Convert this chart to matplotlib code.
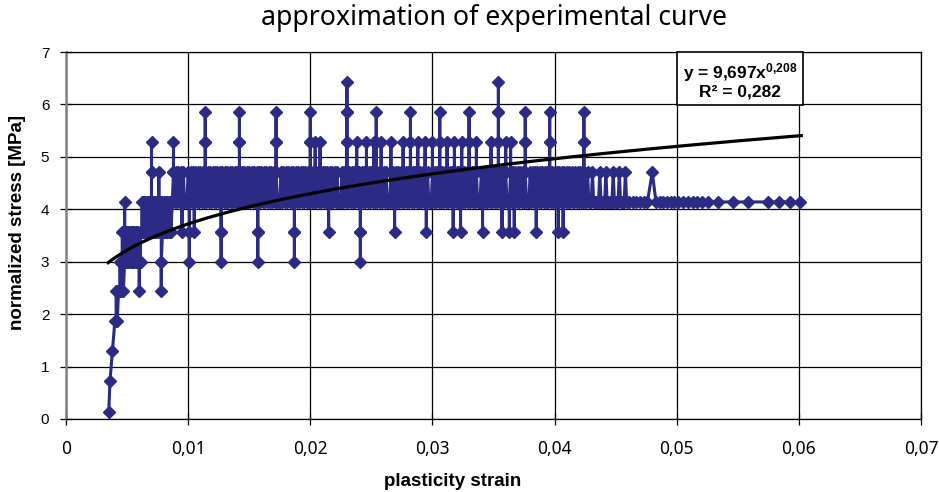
import numpy as np
import matplotlib
matplotlib.use("Agg")
import matplotlib.pyplot as plt
from matplotlib.ticker import FuncFormatter

# --- DATA ---
# discrete stress levels [MPa] seen in the measurement (code 0..b)
STRESS_LEVELS = [0.14, 0.72, 1.30, 1.87, 2.44, 3.00, 3.56, 4.14, 4.71, 5.28, 5.85, 6.43]

# measurement record: "strain*1e4 : level codes visited at that strain (in order)"
RECORD = """
35:0 36:1 38:2 40:3 41:34 42:43 43:4 44:45 45:54 46:56 47:654 48:5676 49:65
50:56 51:65 52:56 53:65 54:56 55:65 56:56 57:65 58:56 59:65 60:545 61:56 62:67
63:76 64:67 65:76 66:67 67:76 68:67 69:76 70:78987 71:76 72:67 73:76 74:67
75:76 76:787 77:67 78:76545 79:67 80:76 81:67 82:76 83:67 84:76 85:67 86:76 87:7
88:898 89:7 90:8 91:7 92:8 93:7 94:8 95:767 96:8 97:7 98:7 99:7
100:8 101:76567 102:8 103:7 104:8 105:767 106:8 107:7 108:8 109:7
110:8 111:7 112:8 113:7 114:89a98 115:7 116:8 117:7 118:8 119:7
120:8 121:7 122:8 123:7 124:8 125:7 126:8 127:76567 128:8 129:7
130:8 131:7 132:8 133:7 134:8 135:7 136:8 137:7 138:8 139:7
140:8 141:7 142:89a98 143:7 144:8 145:7 146:8 147:7 148:8 149:7
150:8 151:7 152:8 153:7 154:8 155:7 156:8 157:76567 158:8 159:7
160:8 161:7 162:8 163:7 164:8 165:7 166:8 167:7 168:8 169:7
170:8 171:7 172:89a98 173:7 174:7 175:7 176:8 177:7 178:8 179:7
180:8 181:7 182:8 183:7 184:8 185:7 186:8 187:76567 188:8 189:7
190:8 191:7 192:8 193:7 194:8 195:7 196:8 197:7 198:8 199:7
200:89a98 201:7 202:8 203:7 204:898 205:7 206:8 207:7 208:898 209:7
210:8 211:7 212:8 213:7 214:8 215:767 216:8 217:7 218:8 219:7
220:8 221:7 222:8 223:7 224:7 225:7 226:8 227:7 228:8 229:7
230:89aba98 231:7 232:8 233:7 234:8 235:7 236:8 237:7 238:898 239:7
240:8 241:76567 242:8 243:7 244:8 245:7 246:898 247:7 248:8 249:7
250:8 251:7 252:898 253:7 254:89a98 255:7 256:8 257:7 258:898 259:7
260:8 261:7 262:8 263:7 264:7 265:7 266:898 267:7 268:8 269:767
270:8 271:7 272:8 273:7 274:8 275:7 276:898 277:7 278:8 279:7
280:8 281:7 282:89a98 283:7 284:8 285:7 286:8 287:7 288:898 289:7
290:8 291:7 292:8 293:7 294:898 295:767 296:8 297:7 298:7 299:7
300:898 301:7 302:8 303:7 304:8 305:7 306:89a98 307:7 308:8 309:7
310:8 311:7 312:898 313:7 314:8 315:7 316:8 317:767 318:898 319:7
320:8 321:7 322:8 323:767 324:898 325:7 326:8 327:7 328:8 329:7
330:89a98 331:7 332:8 333:7 334:8 335:7 336:898 337:7 338:7 339:7
340:8 341:767 342:8 343:7 344:8 345:7 346:8 347:7 348:898 349:7
350:8 351:7 352:8 353:7 354:89aba98 355:7 356:8 357:767 358:8 359:7
360:898 361:7 362:7 363:767 364:898 365:7 366:8 367:767 368:8 369:7
370:8 371:7 372:8 373:7 374:8 375:7 376:89a98 377:7 378:7 379:7
380:8 381:7 382:8 383:7 384:8 385:767 386:8 387:7 388:8 389:7
390:8 391:7 392:8 393:7 394:8 395:7 396:89a98 397:7 398:8 399:7
400:8 401:7 402:8 403:767 404:8 405:7 406:8 407:767 408:8 409:7
410:8 411:7 412:8 413:7 414:8 415:7 416:7 417:8 418:7 419:8
420:7 421:8 422:7 423:7 424:89a98 425:7 426:7 427:8 428:7 429:7
430:7 431:8 432:7 433:7 434:7 435:7 436:7 437:8 438:7 439:7
440:7 441:7 442:8 443:7 444:7 445:7 446:7 447:7 448:8 449:7
450:7 451:7 452:7 453:8 454:7 455:7 456:7 457:7 458:8 459:7
461:7 464:7 467:7 470:7 473:7 476:7 480:8 483:7 486:7 489:7 492:7 495:7
498:7 501:7 505:7 509:7 513:7 517:7 521:7 526:7 534:7 546:7 558:7 575:7
584:7 593:7 601:7
"""

# power trendline shown on the chart: y = 9,697 x^0,208
TREND_A = 9.697
TREND_B = 0.208
TREND_R2 = 0.282
TREND_X_RANGE = (0.00345, 0.0602)

X_TICKS = [0, 0.01, 0.02, 0.03, 0.04, 0.05, 0.06, 0.07]
Y_TICKS = [0, 1, 2, 3, 4, 5, 6, 7]

SERIES_COLOR = "#2b2a84"
SANS = ["Liberation Sans", "DejaVu Sans"]
NOTO = ["Noto Sans", "DejaVu Sans"]


def lire_serie(texte):
    """Converte o registro em listas de deformação e tensão."""
    xs, ys = [], []
    for tok in texte.split():
        pos, codes = tok.split(":")
        for c in codes:
            xs.append(int(pos) * 1e-4)
            ys.append(STRESS_LEVELS[int(c, 16)])
    return xs, ys


strain, stress = lire_serie(RECORD)

plt.rcParams["font.family"] = SANS
plt.rcParams["mathtext.fontset"] = "custom"
plt.rcParams["mathtext.rm"] = "Liberation Sans:bold"
plt.rcParams["mathtext.it"] = "Liberation Sans:bold"

fig = plt.figure(figsize=(9.39, 4.92), dpi=100)
ax = fig.add_axes([66 / 939, 73 / 492, 855 / 939, 367 / 492])

# measured curve
ax.plot(strain, stress, color=SERIES_COLOR, lw=2.2, marker="D", ms=6.6,
        mec=SERIES_COLOR, mfc=SERIES_COLOR, zorder=3)

# trendline (from the fitted coefficients)
tx = np.geomspace(TREND_X_RANGE[0], TREND_X_RANGE[1], 200)
ax.plot(tx, TREND_A * tx ** TREND_B, color="black", lw=2.3, zorder=4)

ax.set_xlim(X_TICKS[0], X_TICKS[-1])
ax.set_ylim(Y_TICKS[0], Y_TICKS[-1])
ax.set_xticks(X_TICKS)
ax.set_yticks(Y_TICKS)
ax.xaxis.set_major_formatter(FuncFormatter(lambda v, p: ("%g" % round(v, 4)).replace(".", ",")))
ax.grid(True, color="black", lw=0.9)
ax.set_axisbelow(True)

for lado in ["top", "right", "bottom"]:
    ax.spines[lado].set_color("black")
    ax.spines[lado].set_linewidth(0.9)
ax.spines["left"].set_color("#808080")
ax.spines["left"].set_linewidth(1.8)

ax.tick_params(axis="x", direction="inout", length=8, width=0.9, pad=11)
ax.tick_params(axis="y", direction="inout", length=8, width=0.9, pad=8, labelsize=11)
for lab in ax.get_xticklabels():
    lab.set_family(NOTO)
    lab.set_fontsize(12.5)

fig.text(494 / 939, 1 - 18 / 492, "approximation of experimental curve",
         ha="center", va="center", fontsize=19.2, family=NOTO)
fig.text(453 / 939, 1 - 481 / 492, "plasticity strain", ha="center", va="center",
         fontsize=13.5, fontweight="bold")
fig.text(18 / 939, 1 - 222 / 492, "normalized stress [MPa]", ha="center", va="center",
         rotation=90, fontsize=13.5, fontweight="bold")

eq = "y = 9,697x$^{0{,}208}$\nR² = " + ("%.3f" % TREND_R2).replace(".", ",")
ax.text((740 - 66) / 855, (419 - 80) / 367, eq, transform=ax.transAxes,
        ha="center", va="center", multialignment="center", fontsize=12.5,
        fontweight="bold", linespacing=1.05, zorder=6,
        bbox=dict(boxstyle="square,pad=0.35", fc="white", ec="black", lw=1.2))

fig.savefig("out.png", dpi=100, facecolor="white")
